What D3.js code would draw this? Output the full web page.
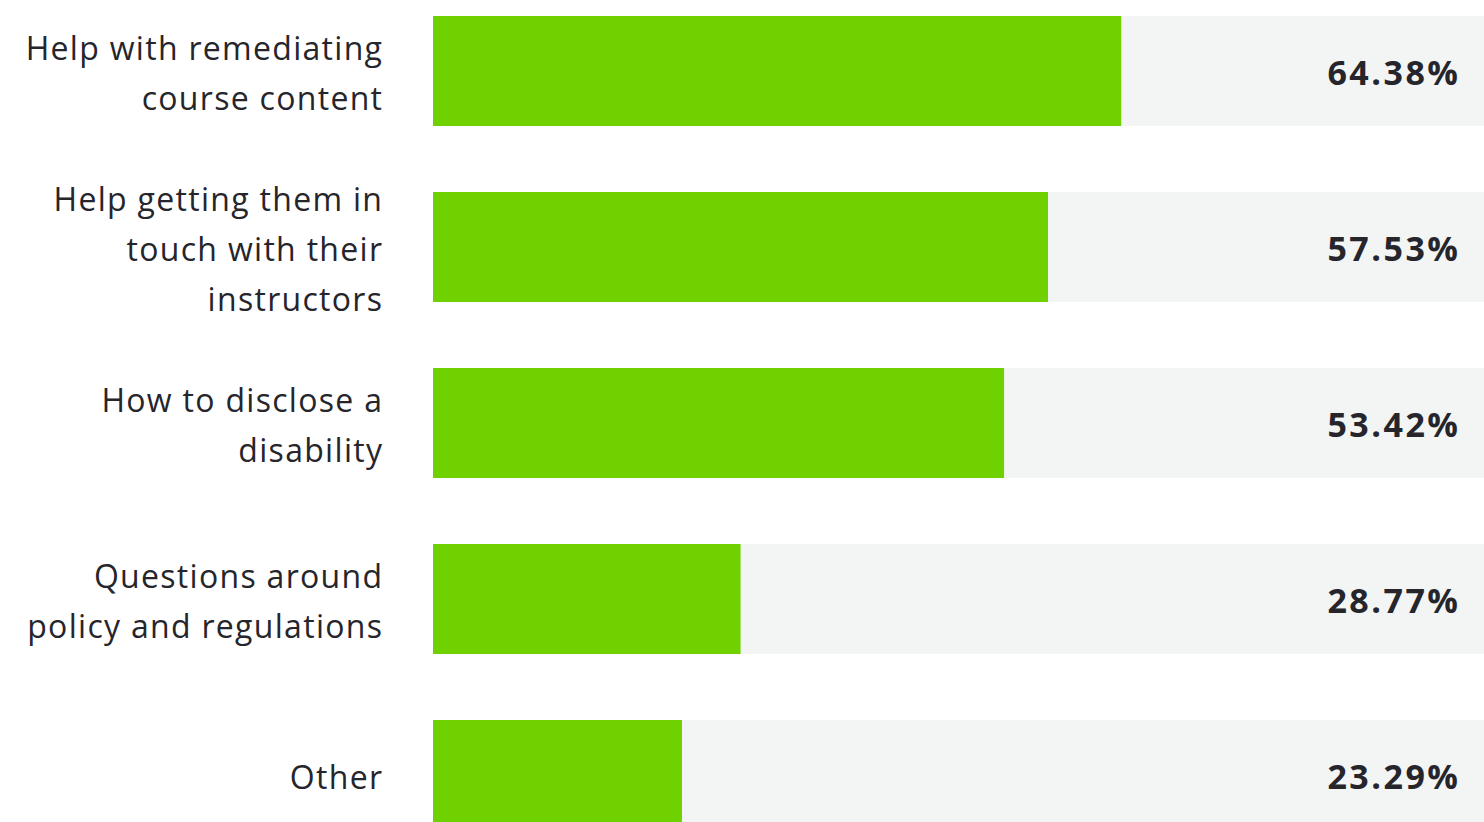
<!DOCTYPE html>
<html><head><meta charset="utf-8">
<script src="https://cdn.jsdelivr.net/npm/d3@7"></script>
<style>html,body{margin:0;padding:0;background:#fff;overflow:hidden}</style>
</head><body>
<svg id="chart" width="1484" height="822"></svg>
<script>
const categories = [
  ["Help with remediating", "course content"],
  ["Help getting them in", "touch with their", "instructors"],
  ["How to disclose a", "disability"],
  ["Questions around", "policy and regulations"],
  ["Other"]
];
const values = [64.38, 57.53, 53.42, 28.77, 23.29];
const valueLabels = ["64.38%", "57.53%", "53.42%", "28.77%", "23.29%"];

const svg = d3.select("#chart");
const x = d3.scaleLinear().domain([0, 100]).range([433, 1502]);
const y = d3.scaleBand().domain(d3.range(values.length)).range([16, 830]).paddingInner(66/176).paddingOuter(0);
const bw = y.bandwidth();

const g = svg.selectAll("g.row").data(values).join("g").attr("class", "row");
g.append("rect").attr("x", x(0)).attr("y", (d,i) => y(i)).attr("width", 1484 - x(0)).attr("height", bw).attr("fill", "#f3f4f4");
g.append("rect").attr("x", x(0)).attr("y", (d,i) => y(i)).attr("width", d => x(d) - x(0)).attr("height", bw).attr("fill", "#70d100");
const vs = 2.5;
g.append("text").attr("x", 1458 + vs).attr("y", (d,i) => y(i) + bw/2 + 14)
  .attr("text-anchor", "end").attr("font-family", "'Open Sans', sans-serif").attr("font-weight", 700)
  .attr("font-size", 34).attr("letter-spacing", vs).attr("fill", "#25252b").text((d,i) => valueLabels[i]);

const ls = 1.3;
g.each(function(d, i) {
  const lines = categories[i];
  const n = lines.length;
  const t = d3.select(this).append("text").attr("text-anchor", "end")
    .attr("font-family", "'Open Sans', sans-serif").attr("font-weight", 400).attr("font-size", 32)
    .attr("letter-spacing", ls).attr("fill", "#25252b");
  lines.forEach((l, k) => {
    t.append("tspan").attr("x", 382 + ls).attr("y", y(i) + bw/2 + 14 + (k - (n-1)/2) * 50).text(l);
  });
});
</script>
</body></html>
